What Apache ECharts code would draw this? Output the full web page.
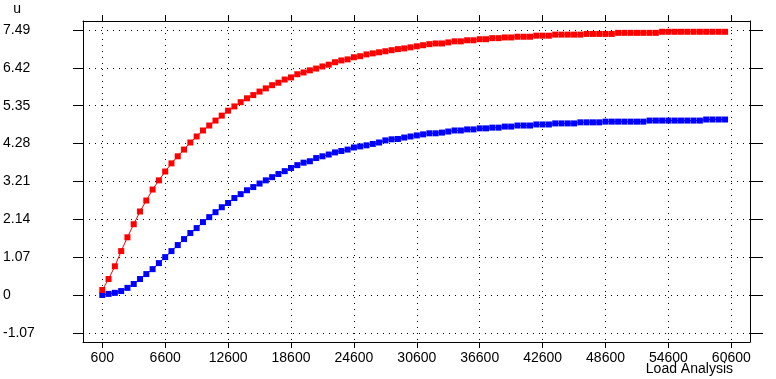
<!DOCTYPE html>
<html>
<head>
<meta charset="utf-8">
<script src="https://cdn.jsdelivr.net/npm/echarts@6/dist/echarts.min.js"></script>
<style>
html,body{margin:0;padding:0;background:#fff;}
#chart{width:776px;height:379px;}
</style>
</head>
<body>
<div id="chart"></div>
<script>
var loadSteps = [600,1200,1800,2400,3000,3600,4200,4800,5400,6000,
6600,7200,7800,8400,9000,9600,10200,10800,11400,12000,
12600,13200,13800,14400,15000,15600,16200,16800,17400,18000,
18600,19200,19800,20400,21000,21600,22200,22800,23400,24000,
24600,25200,25800,26400,27000,27600,28200,28800,29400,30000,
30600,31200,31800,32400,33000,33600,34200,34800,35400,36000,
36600,37200,37800,38400,39000,39600,40200,40800,41400,42000,
42600,43200,43800,44400,45000,45600,46200,46800,47400,48000,
48600,49200,49800,50400,51000,51600,52200,52800,53400,54000,
54600,55200,55800,56400,57000,57600,58200,58800,59400,60000];

var redValues = [0.14,0.45,0.81,1.24,1.63,2.00,2.36,2.67,2.98,3.24,
3.49,3.72,3.92,4.11,4.31,4.48,4.65,4.79,4.93,5.07,
5.21,5.33,5.45,5.56,5.65,5.75,5.84,5.93,6.00,6.09,
6.15,6.24,6.29,6.35,6.40,6.46,6.51,6.58,6.63,6.66,
6.72,6.75,6.80,6.83,6.86,6.89,6.92,6.95,6.97,7.00,
7.03,7.06,7.09,7.11,7.11,7.14,7.17,7.17,7.20,7.20,
7.23,7.23,7.26,7.26,7.28,7.28,7.30,7.30,7.30,7.33,
7.33,7.33,7.36,7.36,7.36,7.36,7.36,7.38,7.38,7.38,
7.38,7.38,7.41,7.41,7.41,7.41,7.41,7.41,7.41,7.44,
7.44,7.44,7.44,7.44,7.44,7.44,7.44,7.44,7.44,7.44];

var blueValues = [0.00,0.03,0.06,0.11,0.20,0.31,0.45,0.59,0.73,0.90,
1.07,1.24,1.41,1.58,1.75,1.89,2.06,2.20,2.34,2.48,
2.60,2.74,2.85,2.96,3.05,3.15,3.24,3.33,3.42,3.50,
3.59,3.67,3.74,3.78,3.87,3.92,3.97,4.03,4.07,4.11,
4.17,4.20,4.23,4.27,4.31,4.37,4.40,4.41,4.45,4.48,
4.51,4.54,4.57,4.57,4.59,4.62,4.65,4.65,4.68,4.68,
4.71,4.71,4.73,4.73,4.76,4.76,4.79,4.79,4.79,4.82,
4.82,4.82,4.85,4.85,4.85,4.85,4.88,4.88,4.88,4.88,
4.90,4.90,4.90,4.90,4.90,4.90,4.90,4.93,4.93,4.93,
4.93,4.93,4.93,4.93,4.93,4.93,4.96,4.96,4.96,4.96];

var xTicks = [600,6600,12600,18600,24600,30600,36600,42600,48600,54600,60600];
var yTicks = [-1.07,0,1.07,2.14,3.21,4.28,5.35,6.42,7.49];

function pairs(xs, ys){ return xs.map(function(x,i){ return [x, ys[i]]; }); }

var FONT = '"Liberation Sans", Arial, sans-serif';
var XMIN = -1240, XMAX = 62380, YMIN = -1.33, YMAX = 7.745;
var axisLineStyle = {show:true, onZero:false, lineStyle:{color:'#000', width:1}};
var grid = {type:[1,5], color:'#000', width:1};

var chart = echarts.init(document.getElementById('chart'), null, {renderer:'canvas'});
chart.setOption({
  animation:false,
  backgroundColor:'#fff',
  title:{text:'Load Analysis', right:43, top:362, padding:0,
    textStyle:{fontFamily:FONT, fontSize:14, fontWeight:'normal', color:'#000'}},
  grid:{left:82, right:26, top:21, bottom:37, containLabel:false},
  xAxis:[{
    type:'value', min:XMIN, max:XMAX, position:'bottom',
    axisLine:axisLineStyle,
    axisTick:{show:true, inside:false, length:6, customValues:xTicks, lineStyle:{color:'#000'}},
    axisLabel:{show:true, customValues:xTicks, margin:9, color:'#000', fontFamily:FONT, fontSize:14,
      formatter:function(v){ return String(v); }},
    splitLine:{show:true, lineStyle:grid}
  },{
    type:'value', min:XMIN, max:XMAX, position:'top',
    axisLine:axisLineStyle,
    axisTick:{show:true, inside:false, length:6, customValues:xTicks, lineStyle:{color:'#000'}},
    axisLabel:{show:false},
    splitLine:{show:false}
  }],
  yAxis:[{
    type:'value', min:YMIN, max:YMAX, position:'left',
    name:'u', nameLocation:'end', nameGap:5,
    nameTextStyle:{fontFamily:FONT, fontSize:14, color:'#000', align:'right', padding:[0,62,0,0]},
    axisLine:axisLineStyle,
    axisTick:{show:true, inside:false, length:10, customValues:yTicks, lineStyle:{color:'#000'}},
    axisLabel:{show:true, customValues:yTicks, margin:80, align:'left', color:'#000', fontFamily:FONT, fontSize:14,
      formatter:function(v){ return String(v); }},
    splitLine:{show:true, lineStyle:grid}
  },{
    type:'value', min:YMIN, max:YMAX, position:'right',
    axisLine:axisLineStyle,
    axisTick:{show:true, inside:false, length:13, customValues:yTicks, lineStyle:{color:'#000'}},
    axisLabel:{show:false},
    splitLine:{show:false}
  }],
  series:[{
    name:'blue', type:'line', xAxisIndex:0, yAxisIndex:0,
    data:pairs(loadSteps, blueValues),
    symbol:'rect', symbolSize:6, showAllSymbol:true,
    itemStyle:{color:'#0000ff'}, lineStyle:{color:'#0000ff', width:1}
  },{
    name:'red', type:'line', xAxisIndex:0, yAxisIndex:0,
    data:pairs(loadSteps, redValues),
    symbol:'rect', symbolSize:6, showAllSymbol:true,
    itemStyle:{color:'#ff0000'}, lineStyle:{color:'#ff0000', width:1}
  }]
});
</script>
</body>
</html>
